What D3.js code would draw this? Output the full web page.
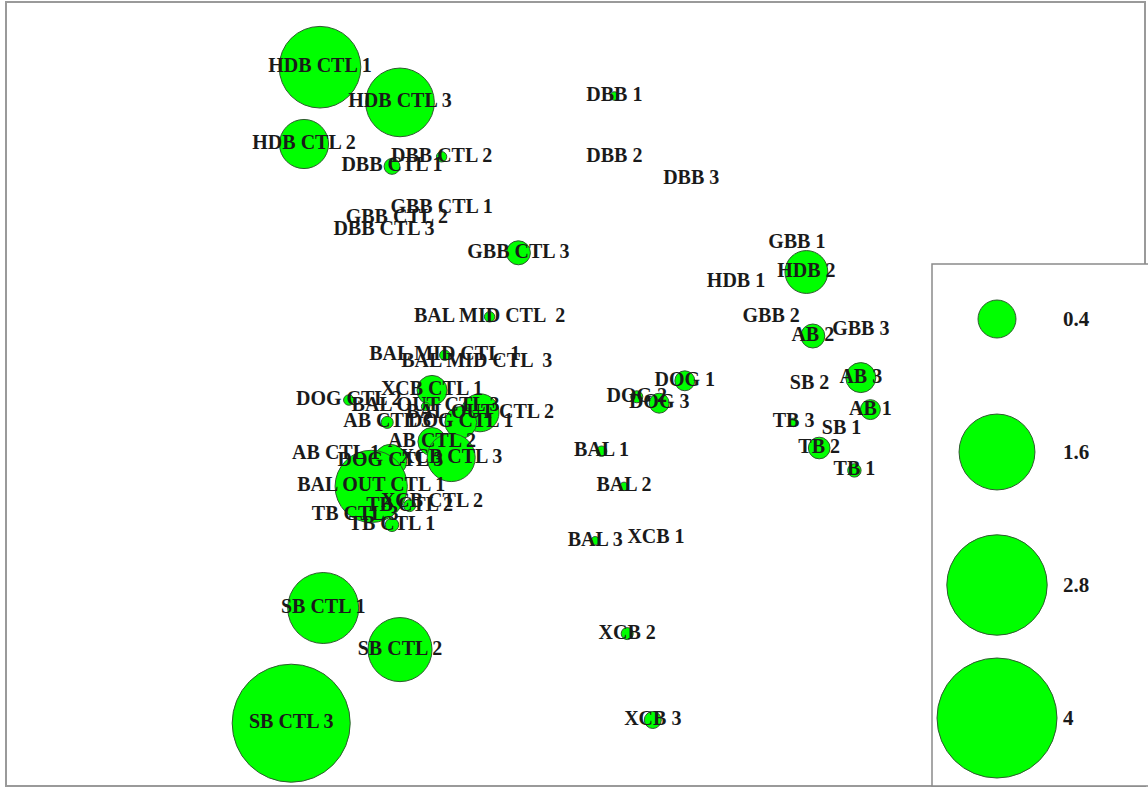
<!DOCTYPE html>
<html>
<head>
<meta charset="utf-8">
<script src="https://cdn.jsdelivr.net/npm/d3@7"></script>
<style>
  body { margin: 0; background: #fff; }
  text { white-space: pre; }
</style>
</head>
<body>
<div id="chart"></div>
<script>
// Sample names, ordination scores and bubble sizes.
const sampleNames = [
  "HDB CTL 1", "HDB CTL 2", "HDB CTL 3", "DBB CTL 1", "DBB CTL 2", "DBB CTL 3",
  "GBB CTL 1", "GBB CTL 2", "GBB CTL 3", "BAL MID CTL  2", "BAL MID CTL  1", "BAL MID CTL  3",
  "XCB CTL 1", "DOG CTL 2", "BAL OUT CTL 3", "BAL OUT CTL 2", "AB CTL 3", "DOG CTL 1",
  "AB CTL 2", "XCB CTL 3", "AB CTL 1", "DOG CTL 3", "BAL OUT CTL 1", "XCB CTL 2",
  "TB CTL 2", "TB CTL 3", "TB CTL 1", "SB CTL 1", "SB CTL 2", "SB CTL 3",
  "DBB 1", "DBB 2", "DBB 3", "GBB 1", "HDB 2", "HDB 1", "GBB 2", "AB 2", "GBB 3",
  "AB 3", "SB 2", "AB 1", "TB 3", "SB 1", "TB 2", "TB 1",
  "DOG 1", "DOG 2", "DOG 3", "BAL 1", "BAL 2", "BAL 3", "XCB 1", "XCB 2", "XCB 3"
];
const nmds1 = [
  -0.75, -0.80, -0.50, -0.525, -0.37, -0.55,
  -0.37, -0.51, -0.13, -0.22, -0.36, -0.26,
  -0.40, -0.66, -0.42, -0.25, -0.54, -0.31,
  -0.40, -0.34, -0.70, -0.53, -0.59, -0.40,
  -0.47, -0.64, -0.525, -0.74, -0.50, -0.84,
  0.17, 0.17, 0.41, 0.74, 0.77, 0.55, 0.66, 0.79, 0.94,
  0.94, 0.78, 0.97, 0.73, 0.88, 0.81, 0.92,
  0.39, 0.24, 0.31, 0.13, 0.20, 0.11, 0.30, 0.21, 0.29
];
const nmds2 = [
  1.04, 0.80, 0.93, 0.73, 0.76, 0.53,
  0.60, 0.57, 0.46, 0.26, 0.14, 0.12,
  0.03, 0.00, -0.02, -0.04, -0.07, -0.07,
  -0.13, -0.18, -0.17, -0.19, -0.27, -0.32,
  -0.33, -0.36, -0.39, -0.65, -0.78, -1.01,
  0.95, 0.76, 0.69, 0.49, 0.40, 0.37, 0.26, 0.20, 0.22,
  0.07, 0.05, -0.03, -0.07, -0.09, -0.15, -0.22,
  0.06, 0.01, -0.01, -0.16, -0.27, -0.44, -0.43, -0.73, -1.00
];
const abundance = [
  1.85, 0.67, 1.31, 0.07, 0.03, 0,
  0, 0, 0.16, 0.03, 0.03, 0,
  0.25, 0.03, 0.02, 0.40, 0.04, 0.28,
  0.22, 0.64, 0, 0.30, 1.45, 0,
  0.04, 0, 0.05, 1.40, 1.14, 3.87,
  0.02, 0, 0, 0, 0.51, 0, 0, 0.16, 0,
  0.25, 0, 0.11, 0.02, 0, 0.13, 0.05,
  0.11, 0.04, 0.11, 0.03, 0.02, 0.02, 0, 0.04, 0.08
];
const legendValues = [0.4, 1.6, 2.8, 4];
const legendLabels = ["0.4", "1.6", "2.8", "4"];

const width = 1148, height = 790;

const svg = d3.select("#chart")
  .append("svg")
  .attr("width", width)
  .attr("height", height);

// Outer frame
svg.append("rect")
  .attr("x", 6).attr("y", 2)
  .attr("width", 1139).attr("height", 784)
  .attr("fill", "none")
  .attr("stroke", "#9a9a9a")
  .attr("stroke-width", 2);

const x = d3.scaleLinear().domain([-1.1, 1.1]).range([208, 912]);
const y = d3.scaleLinear().domain([-1.2, 1.2]).range([784, 16]);
const r = d3.scaleSqrt().domain([0, 4]).range([0, 60]);

const points = sampleNames.map((name, i) => ({
  name: name, x: nmds1[i], y: nmds2[i], size: abundance[i]
}));

// Bubbles
svg.append("g")
  .selectAll("circle")
  .data(points.filter(d => d.size > 0))
  .join("circle")
  .attr("cx", d => x(d.x))
  .attr("cy", d => y(d.y))
  .attr("r", d => r(d.size))
  .attr("fill", "#00ff00")
  .attr("stroke", "#2f5a2f")
  .attr("stroke-width", 1);

// Sample labels
svg.append("g")
  .selectAll("text")
  .data(points)
  .join("text")
  .attr("x", d => x(d.x))
  .attr("y", d => y(d.y))
  .attr("dy", "-2")
  .attr("text-anchor", "middle")
  .attr("dominant-baseline", "central")
  .style("font-family", "'Liberation Serif', 'Times New Roman', serif")
  .style("font-weight", "bold")
  .style("font-size", "20px")
  .style("fill", "#1a1a1a")
  .text(d => d.name);

// Size legend
const legend = svg.append("g");
legend.append("rect")
  .attr("x", 932).attr("y", 264)
  .attr("width", 230).attr("height", 522)
  .attr("fill", "#fff")
  .attr("stroke", "#8a8a8a")
  .attr("stroke-width", 1.5);

const ly = d3.scalePoint().domain(legendValues).range([319, 718]);

legend.selectAll("circle")
  .data(legendValues)
  .join("circle")
  .attr("cx", 997)
  .attr("cy", d => ly(d))
  .attr("r", d => r(d))
  .attr("fill", "#00ff00")
  .attr("stroke", "#2f5a2f")
  .attr("stroke-width", 1);

legend.selectAll("text")
  .data(legendValues)
  .join("text")
  .attr("x", 1063)
  .attr("y", d => ly(d))
  .attr("dominant-baseline", "central")
  .style("font-family", "'Liberation Serif', 'Times New Roman', serif")
  .style("font-weight", "bold")
  .style("font-size", "21px")
  .style("fill", "#1a1a1a")
  .text((d, i) => legendLabels[i]);
</script>
</body>
</html>
